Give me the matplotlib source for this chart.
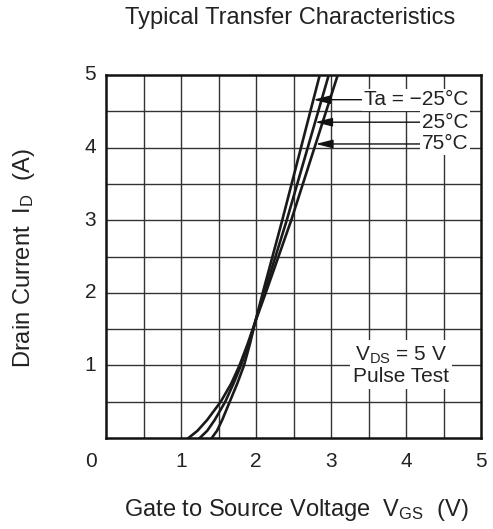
import numpy as np
import matplotlib
matplotlib.use("Agg")
import matplotlib.pyplot as plt

plt.rcParams["font.family"] = ["Liberation Sans", "DejaVu Sans"]
plt.rcParams["mathtext.fontset"] = "custom"
plt.rcParams["mathtext.rm"] = "Liberation Sans"
plt.rcParams["mathtext.it"] = "Liberation Sans"

# =====================================================
# data
# =====================================================
id_points = [0.0, 0.1, 0.25, 0.5, 0.75, 1.0, 1.3, 1.6, 2.0, 2.5, 3.0, 4.0, 5.0]
vgs_m25 = [1.41, 1.48, 1.55, 1.65, 1.75, 1.84, 1.92, 1.99, 2.09, 2.22, 2.35, 2.60, 2.85]
vgs_25 = [1.25, 1.35, 1.45, 1.59, 1.70, 1.80, 1.90, 1.99, 2.11, 2.26, 2.41, 2.69, 2.97]
vgs_75 = [1.10, 1.22, 1.35, 1.53, 1.67, 1.78, 1.89, 1.99, 2.13, 2.30, 2.47, 2.78, 3.09]

curve_labels = ["Ta = \u221225\u00b0C", "25\u00b0C", "75\u00b0C"]
label_ids = [4.66, 4.35, 4.05]   # where each leader line hits its curve

x_ticks = [1, 2, 3, 4, 5]
y_ticks = [1, 2, 3, 4, 5]

# =====================================================
# figure
# =====================================================
fig = plt.figure(figsize=(4.93, 5.29), dpi=100)
ax = fig.add_axes([106 / 493, 1 - 438 / 529, 375 / 493, 363 / 529])
ax.set_xlim(0, 5)
ax.set_ylim(0, 5)

# grid every 0.5
for g in np.arange(0.5, 5.0, 0.5):
    ax.axvline(g, color="#333333", lw=1.0, zorder=1)
    ax.axhline(g, color="#333333", lw=1.0, zorder=1)

for s in ax.spines.values():
    s.set_linewidth(1.8)
    s.set_color("#111111")

curves = [vgs_m25, vgs_25, vgs_75]
for v in curves:
    ax.plot(v, id_points, color="#1a1a1a", lw=1.9, zorder=3, solid_joinstyle="round")

# ---- tick labels ----
fs = 15
ax.set_xticks([])
ax.set_yticks([])
for t in x_ticks:
    ax.text(t, -0.32, str(t), ha="center", va="center", fontsize=fs, color="#222222")
for t in y_ticks:
    ax.text(-0.13, t, str(t), ha="right", va="center", fontsize=fs, color="#222222")
ax.text(-0.2, -0.32, "0", ha="center", va="center", fontsize=fs, color="#222222")

# ---- curve labels with arrows ----
for lab, iy, v in zip(curve_labels, label_ids, curves):
    tip_x = np.interp(iy, id_points, v)
    ax.annotate(lab, xy=(tip_x, iy), xytext=(4.83, iy), ha="right", va="center",
                fontsize=fs, color="#222222", zorder=5,
                bbox=dict(boxstyle="square,pad=0.08", fc="white", ec="none"),
                arrowprops=dict(arrowstyle="-|>,head_length=0.8,head_width=0.2",
                                color="#111111", lw=1.0, shrinkA=0, shrinkB=0,
                                mutation_scale=13))

# ---- VDS box ----
ax.text(3.93, 1.0, "V$_{\\mathrm{DS}}$ = 5 V\nPulse Test", ha="center", va="center",
        fontsize=fs, color="#222222", linespacing=1.05, zorder=5,
        bbox=dict(boxstyle="square,pad=0.15", fc="white", ec="none"))

# ---- titles ----
fig.text(290 / 493, 1 - 18 / 529, "Typical Transfer Characteristics",
         ha="center", va="center", fontsize=17, color="#222222")
fig.text(296 / 493, 1 - 510 / 529, "Gate to Source Voltage  V$_{\\mathrm{GS}}$  (V)",
         ha="center", va="center", fontsize=17, color="#222222")
fig.text(24 / 493, 1 - 258 / 529, "Drain Current  I$_{\\mathrm{D}}$  (A)",
         ha="center", va="center", rotation=90, fontsize=17, color="#222222")

fig.savefig("out.png", dpi=100, facecolor="white")
